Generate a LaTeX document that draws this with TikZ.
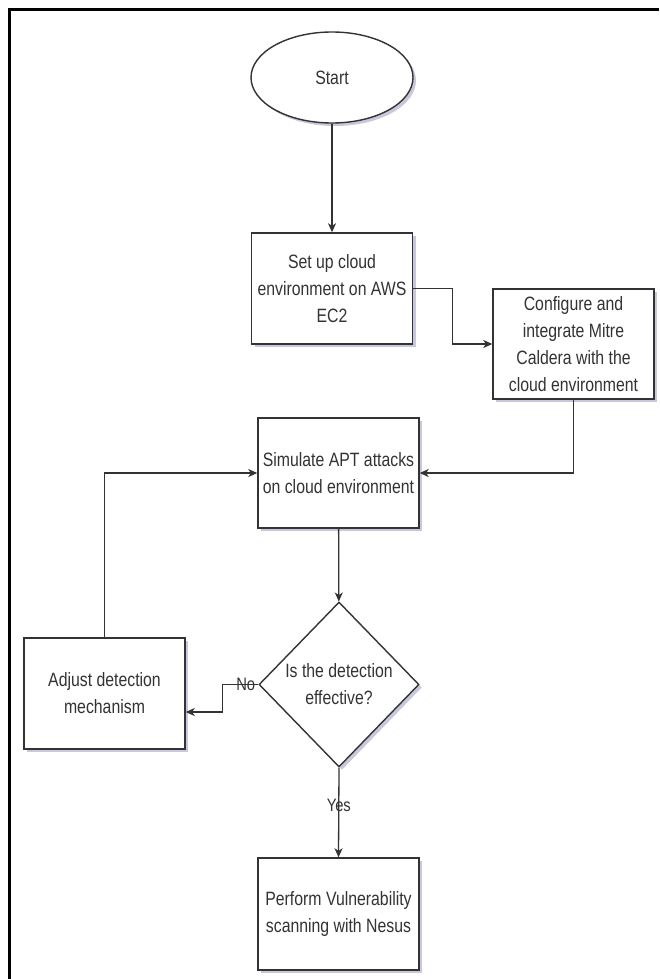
\documentclass[tikz,border=0pt]{standalone}
\usepackage{fontspec}
\setmainfont{Liberation Sans}[FakeStretch=0.82]
\usepackage{tikz}
\usetikzlibrary{shapes.geometric,arrows.meta,shadows}

\begin{document}
\begin{tikzpicture}[x=1pt, y=-1pt,
    every node/.style={font=\fontsize{19.3}{27}\selectfont, text=black!80, align=center},
    box/.style={draw=black!80, line width=1.4pt, fill=white, inner sep=0pt,
        minimum width=161pt, minimum height=111pt,
        drop shadow={shadow xshift=3pt, shadow yshift=-3pt, fill=blue!25!gray, opacity=0.35}},
    arr/.style={draw=black!80, line width=1.3pt, -{Stealth[length=9pt, width=8pt, inset=2.5pt]}},
    lbl/.style={font=\fontsize{18}{20}\selectfont, inner sep=0pt}]

\useasboundingbox (0,0) rectangle (659,979);
\draw[line width=2.6pt] (9.5,979) -- (9.5,9.5) -- (659,9.5);

\node[box, ellipse, minimum width=162pt, minimum height=91pt] (start) at (332,77.5) {Start};
\node[box] (setup) at (332,288.5) {Set up cloud\\environment on AWS\\EC2};
\node[box, minimum height=110pt] (config) at (573.5,344) {Configure and\\integrate Mitre\\Caldera with the\\cloud environment};
\node[box, minimum height=110pt] (sim) at (338.5,473) {Simulate APT attacks\\on cloud environment};
\node[box, diamond, aspect=1, minimum width=160pt, minimum height=165pt] (dec) at (339,684.5) {Is the detection\\effective?};
\node[box] (adjust) at (104.5,693.5) {Adjust detection\\mechanism};
\node[box, minimum height=112pt] (final) at (338.5,914) {Perform Vulnerability\\scanning with Nesus};

\draw[arr] (start) -- (setup);
\draw[arr] (setup.east) -- ++(39,0) |- (config.west);
\draw[arr] (config.south) |- (sim.east);
\draw[arr] (sim) -- (dec);
\draw[arr] (dec.west) -- ++(-36,0) node[lbl, pos=0.35] {No} |- ([yshift=-18.5pt]adjust.east);
\draw[arr] (adjust.north) |- (sim.west);
\draw[arr] (dec.south) -- (final.north) node[lbl, pos=0.42] {Yes};
\end{tikzpicture}
\end{document}
